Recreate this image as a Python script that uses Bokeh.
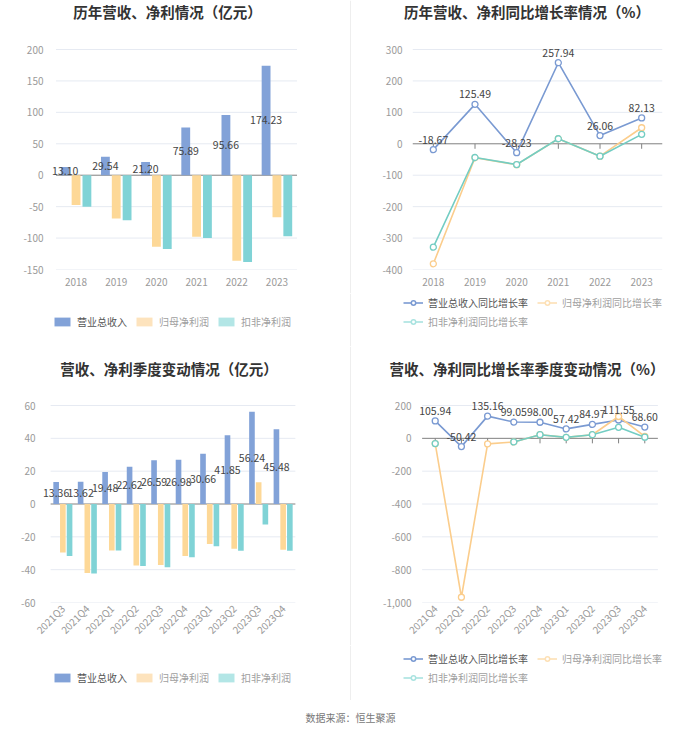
import math
import numpy as np
from bokeh.plotting import figure
from bokeh.models import (FactorRange, Range1d, FixedTicker, NumeralTickFormatter, Span,
                          Legend, LegendItem, ColumnDataSource, Label)
from bokeh.transform import dodge
from bokeh.layouts import column, row
from bokeh.embed import file_html
from bokeh.resources import INLINE
from bokeh.core.properties import value

FONT = "Noto Sans CJK SC"

# ---------------- data ----------------
years = ["2018", "2019", "2020", "2021", "2022", "2023"]
year_revenue = [13.10, 29.54, 21.20, 75.89, 95.66, 174.23]
year_net_profit = [-47.3, -69.0, -114.0, -97.8, -136.0, -67.0]
year_deducted_profit = [-50.0, -71.8, -117.5, -100.0, -138.0, -97.3]

year_revenue_growth = [-18.67, 125.49, -28.23, 257.94, 26.06, 82.13]
year_net_growth = [-381.8, -44.5, -66.5, 16.0, -39.4, 51.0]
year_deducted_growth = [-329.0, -43.6, -66.0, 16.0, -39.4, 30.0]

quarters = ["2021Q3", "2021Q4", "2022Q1", "2022Q2", "2022Q3", "2022Q4",
            "2023Q1", "2023Q2", "2023Q3", "2023Q4"]
q_revenue = [13.36, 13.62, 19.48, 22.62, 26.59, 26.98, 30.66, 41.85, 56.24, 45.48]
q_net_profit = [-29.5, -42.1, -28.3, -37.4, -37.1, -31.6, -24.3, -27.3, 13.3, -27.9]
q_deducted_profit = [-31.6, -42.3, -28.3, -37.8, -38.5, -32.4, -25.7, -28.5, -12.5, -28.5]

growth_quarters = ["2021Q4", "2022Q1", "2022Q2", "2022Q3", "2022Q4",
                   "2023Q1", "2023Q2", "2023Q3", "2023Q4"]
q_revenue_growth = [105.94, -50.42, 135.16, 99.05, 98.00, 57.42, 84.97, 111.55, 68.60]
q_net_growth = [-32.0, -968.0, -34.0, -22.0, 22.0, 6.0, 22.0, 133.0, 12.0]
q_deducted_growth = [-32.0, np.nan, np.nan, -22.0, 22.0, 6.0, 22.0, 67.0, 7.0]

ticks_tl = [-150, -100, -50, 0, 50, 100, 150, 200]
ticks_tr = [-400, -300, -200, -100, 0, 100, 200, 300]
ticks_bl = [-60, -40, -20, 0, 20, 40, 60]
ticks_br = [-1000, -800, -600, -400, -200, 0, 200]

series_names = ["营业总收入", "归母净利润", "扣非净利润"]
growth_names = ["营业总收入同比增长率", "归母净利润同比增长率", "扣非净利润同比增长率"]
titles = ["历年营收、净利情况（亿元）", "历年营收、净利同比增长率情况（%）",
          "营收、净利季度变动情况（亿元）", "营收、净利同比增长率季度变动情况（%）"]
footer_text = "数据来源：恒生聚源"

# ---------------- styles ----------------
BAR_BLUE, BAR_ORANGE, BAR_TEAL = "#82a2d8", "#fdd897", "#80d3d6"
LEG_ORANGE, LEG_TEAL = "#fde3bd", "#b3e6e6"
LINE_BLUE, LINE_ORANGE, LINE_TEAL = "#7a9ad2", "#fbcd8c", "#73cdc3"
LEGL_ORANGE, LEGL_TEAL = "#fde0b5", "#a9e3e0"
AX_TEXT = "#9a9a9a"
GRID = "#e6eaf2"
ZERO = "#808080"
DIVIDER = "#eeeeee"
TXT_COLORS = ["#555555", "#a0a0a0", "#a0a0a0"]


def make_fig(factors, yr, ticks, W, H, bl, fw, bt, fh, pad=0, top_ext=0, ystand=7,
             rotate=False):
    """bl/fw/bt/fh describe the plotting grid; the frame is widened by `pad` px on each
    side and raised by `top_ext` px so that value labels are not clipped."""
    n = len(factors)
    cat_px = fw / n
    y0, y1 = yr
    y1e = y1 + top_ext * (y1 - y0) / fh
    p = figure(x_range=FactorRange(*factors, range_padding=2 * pad / cat_px,
                                   range_padding_units="absolute"),
               y_range=Range1d(y0, y1e),
               width=W, height=H, min_border_left=bl - pad,
               min_border_right=W - bl - fw - pad,
               min_border_top=bt - top_ext, min_border_bottom=H - bt - fh,
               title_location=None, output_backend="svg", toolbar_location=None, tools="")
    p.outline_line_color = None
    p.xgrid.grid_line_color = None
    p.ygrid.grid_line_color = None
    p.yaxis.ticker = FixedTicker(ticks=ticks)
    p.yaxis.formatter = NumeralTickFormatter(format="0,0")
    for ax in (p.xaxis[0], p.yaxis[0]):
        ax.axis_line_color = None
        ax.major_tick_line_color = None
        ax.minor_tick_line_color = None
        ax.major_tick_out = 0
        ax.major_label_text_color = AX_TEXT
        ax.major_label_text_font = FONT
        ax.major_label_text_font_size = "10px"
    p.yaxis.major_label_standoff = ystand - pad
    p.xaxis.major_label_standoff = 8
    if rotate:
        p.xaxis.major_label_orientation = math.pi / 4
        p.xaxis.major_label_standoff = 4
    # grid lines spanning exactly the category band
    nz = [t for t in ticks if t != 0]
    gsrc = ColumnDataSource(dict(y=nz, a=[factors[0]] * len(nz), b=[factors[-1]] * len(nz)))
    p.segment(x0=dodge("a", -0.5, range=p.x_range), x1=dodge("b", 0.5, range=p.x_range),
              y0="y", y1="y", line_color=GRID, line_width=1, source=gsrc)
    zsrc = ColumnDataSource(dict(y=[0], a=[factors[0]], b=[factors[-1]]))
    p.segment(x0=dodge("a", -0.5, range=p.x_range), x1=dodge("b", 0.5, range=p.x_range),
              y0="y", y1="y", line_color=ZERO, line_width=1, source=zsrc)
    return p


def strip_fig(H, divider=True):
    """A full-width strip (frame = whole figure, 1 data unit = 1 px across)."""
    f = figure(width=700, height=H, x_range=Range1d(0, 700), y_range=Range1d(0, H),
               output_backend="svg", toolbar_location=None, tools="", min_border=0,
               x_axis_location=None, y_axis_location=None, title_location=None)
    f.grid.visible = False
    f.outline_line_color = None
    if divider:
        f.add_layout(Span(location=350, dimension="height", line_color=DIVIDER, line_width=1))
    return f


def add_title(f, text, cx, cy):
    f.add_layout(Label(x=cx, y=cy, x_units="screen", y_units="screen", text=text,
                       text_align="center", text_baseline="middle", text_font=FONT,
                       text_font_size="14.5px", text_font_style="bold", text_color="#333333"))


def add_legend(f, renderers, label, vx, vy, color):
    lg = Legend(items=[LegendItem(label=label, renderers=renderers)], location=(vx, vy),
                orientation="horizontal", border_line_color=None, background_fill_alpha=0,
                padding=0, margin=0, spacing=0, glyph_width=20, glyph_height=11,
                label_standoff=5, label_text_font=FONT, label_text_font_size="10px",
                label_text_color=color)
    f.add_layout(lg)


def bar_legends(f, xs, vy):
    src = ColumnDataSource(dict(x=np.array([np.nan]), y=np.array([np.nan])))
    cols = [BAR_BLUE, LEG_ORANGE, LEG_TEAL]
    for i in range(3):
        r = f.vbar(x="x", top="y", width=1, fill_color=cols[i], line_color=None, source=src)
        add_legend(f, [r], series_names[i], xs[i], vy, TXT_COLORS[i])


def line_legends(f, pos):
    src = ColumnDataSource(dict(x=np.array([np.nan]), y=np.array([np.nan])))
    cols = [LINE_BLUE, LEGL_ORANGE, LEGL_TEAL]
    for i in range(3):
        rl = f.line(x="x", y="y", line_color=cols[i], line_width=1.6, source=src)
        rs = f.scatter(x="x", y="y", marker="circle", size=8, fill_color="white",
                       line_color=cols[i], line_width=1.5, source=src)
        add_legend(f, [rl, rs], growth_names[i], pos[i][0], pos[i][1], TXT_COLORS[i])


def bar_panel(p, cats, rev, net, ded, off, w):
    src = ColumnDataSource(dict(x=cats, rev=rev, net=net, ded=ded,
                                mid=[v / 2 for v in rev], lbl=[f"{v:.2f}" for v in rev]))
    p.vbar(x=dodge("x", -off, range=p.x_range), top="rev", width=w, fill_color=BAR_BLUE,
           line_color=None, source=src)
    p.vbar(x=dodge("x", 0, range=p.x_range), top="net", width=w, fill_color=BAR_ORANGE,
           line_color=None, source=src)
    p.vbar(x=dodge("x", off, range=p.x_range), top="ded", width=w, fill_color=BAR_TEAL,
           line_color=None, source=src)
    p.text(x=dodge("x", -off, range=p.x_range), y="mid", text="lbl", text_align="center",
           text_baseline="middle", text_font=value(FONT), text_font_size="10.5px",
           text_color="#444444", source=src)


def line_panel(p, cats, rev, net, ded, tick_len):
    src = ColumnDataSource(dict(x=cats, rev=np.array(rev, dtype=float),
                                net=np.array(net, dtype=float), ded=np.array(ded, dtype=float),
                                lbl=[f"{v:.2f}" for v in rev], z=[0] * len(cats),
                                t=[-tick_len] * len(cats)))
    p.segment(x0="x", y0="z", x1="x", y1="t", line_color=ZERO, line_width=1, source=src)
    for col, c in (("rev", LINE_BLUE), ("net", LINE_ORANGE), ("ded", LINE_TEAL)):
        p.line(x="x", y=col, line_color=c, line_width=1.6, source=src)
        p.scatter(x="x", y=col, marker="circle", size=6, fill_color="white", line_color=c,
                  line_width=1.3, source=src)
    p.text(x="x", y="rev", text="lbl", text_align="center", text_baseline="bottom", y_offset=-6,
           text_font=value(FONT), text_font_size="10.5px", text_color="#444444", source=src)


# ---------------- top row ----------------
hdr1 = strip_fig(32)
add_title(hdr1, titles[0], 167, 21)
add_title(hdr1, titles[1], 526.5, 21)

p1 = make_fig(years, (-150, 200), ticks_tl, 350, 261, 50, 252, 17, 220, pad=6, top_ext=8,
              ystand=7)
bar_panel(p1, years, year_revenue, year_net_profit, year_deducted_profit, 0.27, 0.22)

p2 = make_fig(years, (-400, 300), ticks_tr, 349, 261, 61, 250, 17, 220, top_ext=8, ystand=10)
line_panel(p2, years, year_revenue_growth, year_net_growth, year_deducted_growth,
           5 * 700 / 220)
p2.styles = {"border-left": "1px solid " + DIVIDER}

lg1 = strip_fig(53)
bar_legends(lg1, [52, 134, 216], 17)
line_legends(lg1, [(403, 36), (537, 36), (403, 17)])

# ---------------- bottom row ----------------
hdr2 = strip_fig(34)
add_title(hdr2, titles[2], 168.5, 12)
add_title(hdr2, titles[3], 526.5, 12)

p3 = make_fig(quarters, (-60, 60), ticks_bl, 350, 265, 43, 259, 25, 197, pad=8, top_ext=10,
              ystand=8, rotate=True)
bar_panel(p3, quarters, q_revenue, q_net_profit, q_deducted_profit, 0.274, 0.23)

p4 = make_fig(growth_quarters, (-1000, 200), ticks_br, 349, 265, 66, 245, 25, 197, pad=5,
              top_ext=10, ystand=6, rotate=True)
line_panel(p4, growth_quarters, q_revenue_growth, q_net_growth, q_deducted_growth,
           5 * 1200 / 197)
p4.styles = {"border-left": "1px solid " + DIVIDER}

lg2 = strip_fig(55)
bar_legends(lg2, [52, 134, 216], 15)
line_legends(lg2, [(403, 34), (537, 34), (403, 15)])

# ---------------- footer ----------------
pf = strip_fig(24, divider=False)
pf.add_layout(Label(x=350, y=7, x_units="screen", y_units="screen", text=footer_text,
                    text_align="center", text_baseline="middle", text_font=FONT,
                    text_font_size="10px", text_color="#777777"))

layout = column(hdr1, row(p1, p2), lg1, hdr2, row(p3, p4), lg2, pf)

open("out.html", "w").write(file_html(layout, INLINE))
